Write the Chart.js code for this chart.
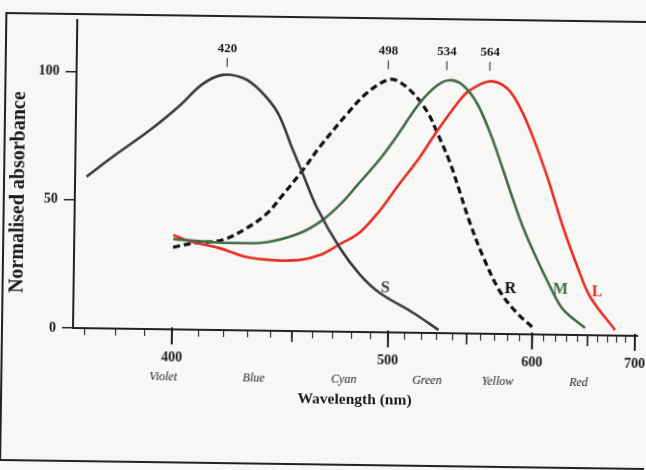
<!DOCTYPE html>
<html>
<head>
<meta charset="utf-8">
<script src="https://cdn.jsdelivr.net/npm/chart.js@4.4.1/dist/chart.umd.min.js"></script>
<style>
  html, body { margin: 0; padding: 0; background: #f7f7f5; }
  /* the scanned figure sits slightly tilted on the page */
  #chart { display: block; transform: rotate(0.8deg); transform-origin: 73px 328px; }
</style>
</head>
<body>
<canvas id="chart" width="646" height="470"></canvas>
<script>
// absorbance curves, wavelength in nm and normalised absorbance
const sNm  = [370, 378.5, 391, 402, 410, 418, 427, 434, 442, 449, 454, 461, 473, 484, 495, 515, 531];
const sVal = [59, 67, 77.5, 87.5, 95.5, 99.4, 98.2, 93.6, 85, 71, 61.5, 48.4, 32.6, 22.2, 15.3, 7.7, 1.2];

const rNm  = [400, 407.5, 419, 429, 438, 444, 454, 462, 476, 486, 497, 503, 513, 522, 528, 537, 544, 551, 561, 574, 587.5, 600];
const rVal = [32, 33.7, 35.1, 39.8, 45.8, 52.1, 62.7, 71.8, 85.1, 93, 98.2, 98.2, 93.3, 86, 78.5, 66.5, 55, 43.5, 30, 16.5, 8.2, 2.9];

const mNm  = [400, 415, 426, 438, 453, 464, 474, 481.5, 494, 503.5, 517, 528, 536, 545, 555, 565, 575, 583, 591.5, 603, 615, 626.5, 647.5];
const mVal = [35.2, 34.2, 34, 34.5, 38.2, 43.4, 50.5, 57, 67.5, 76.5, 89.5, 96.5, 98.6, 96.7, 89.8, 78.1, 64, 52.5, 41.5, 29.5, 18.6, 10, 2.8];

const lNm  = [400, 407.5, 418, 429, 441, 453, 463, 472, 483.5, 494.5, 504, 517.5, 528, 543, 550, 564, 577, 587.5, 598.5, 611, 618, 626, 639, 652, 678];
const lVal = [36.7, 34.1, 31.9, 28.6, 27.5, 27.7, 29.8, 33.7, 38.9, 47.6, 56.6, 68.4, 78.5, 90.8, 94.8, 98.4, 95.8, 88.4, 76.8, 61.5, 52, 41.5, 27, 15, 2.2];

// peak markers and labels
const peakNm = [420, 498, 534, 564];

// curve names with where they are written
const curveNames = ["S", "R", "M", "L"];
const curveNameNm = [498, 582, 624, 659];
const curveNameVal = [17.3, 17.5, 17.4, 16.9];

// colour names under the wavelength axis
const bandNames = ["Violet", "Blue", "Cyan", "Green", "Yellow", "Red"];
const bandNm = [397, 433, 476, 524, 573, 642];

const majorNm = [400, 500, 600, 700];
const yTicks = [0, 50, 100];

const cS = "#3a3a3a", cR = "#111111", cM = "#436b49", cL = "#e52d24";
const serif = "'Liberation Serif', 'DejaVu Serif', serif";

// the wavelength axis is linear in wavenumber
const inv = nm => 1e5 / nm;
const pts = (xs, ys) => xs.map((nm, i) => ({x: inv(nm), y: ys[i]}));

const minorNm = [];
for (let nm = 370; nm <= 700; nm += 10) minorNm.push(nm);

const decor = {
  id: "decor",
  afterDraw(chart) {
    const ctx = chart.ctx;
    const xs = chart.scales.x, ys = chart.scales.y;
    const base = ys.getPixelForValue(0);
    ctx.save();

    // frame of the figure
    ctx.strokeStyle = "#222";
    ctx.lineWidth = 2;
    ctx.beginPath();
    ctx.moveTo(700, 14); ctx.lineTo(2, 14); ctx.lineTo(2, 461); ctx.lineTo(700, 461);
    ctx.stroke();

    // longer ticks every 50 nm
    ctx.strokeStyle = "#222";
    minorNm.forEach(nm => {
      if (nm % 50) return;
      const px = xs.getPixelForValue(inv(nm));
      ctx.lineWidth = nm % 100 ? 1.6 : 2;
      ctx.beginPath();
      ctx.moveTo(px, base - (nm % 100 ? 0 : 2));
      ctx.lineTo(px, base + (nm % 100 ? 11 : 15));
      ctx.stroke();
    });

    // y title
    ctx.fillStyle = "#1a1a1a";
    ctx.font = "bold 20px " + serif;
    ctx.textAlign = "center";
    ctx.textBaseline = "middle";
    ctx.translate(17, 193);
    ctx.rotate(-Math.PI / 2);
    ctx.fillText("Normalised absorbance", 0, 0);
    ctx.setTransform(1, 0, 0, 1, 0, 0);

    // peak wavelengths
    ctx.font = "bold 13px " + serif;
    ctx.lineWidth = 1;
    peakNm.forEach(nm => {
      const px = xs.getPixelForValue(inv(nm));
      ctx.fillText(String(nm), px, ys.getPixelForValue(109.5));
      ctx.beginPath();
      ctx.moveTo(px, ys.getPixelForValue(106));
      ctx.lineTo(px, ys.getPixelForValue(102.5));
      ctx.stroke();
    });

    // curve names
    ctx.font = "bold 16px " + serif;
    const nameCol = [cS, cR, cM, cL];
    curveNames.forEach((t, i) => {
      ctx.fillStyle = nameCol[i];
      ctx.fillText(t, xs.getPixelForValue(inv(curveNameNm[i])), ys.getPixelForValue(curveNameVal[i]));
    });

    // colour bands
    ctx.fillStyle = "#222";
    ctx.font = "italic 12px " + serif;
    bandNames.forEach((t, i) => {
      ctx.fillText(t, xs.getPixelForValue(inv(bandNm[i])), 376);
    });

    ctx.restore();
  }
};

const line = (data, color, extra) => Object.assign({
  data, borderColor: color, borderWidth: 2.6, pointRadius: 0,
  fill: false, tension: 0.35
}, extra || {});

new Chart(document.getElementById("chart"), {
  type: "line",
  data: {
    datasets: [
      line(pts(sNm, sVal), cS),
      line(pts(mNm, mVal), cM),
      line(pts(lNm, lVal), cL),
      line(pts(rNm, rVal), cR, {borderDash: [7, 4], borderWidth: 3.2})
    ]
  },
  options: {
    responsive: false,
    animation: false,
    layout: {padding: {left: 0, right: 8, top: 20, bottom: 0}},
    plugins: {legend: {display: false}, tooltip: {enabled: false}},
    scales: {
      x: {
        type: "linear",
        reverse: true,
        min: 142.17,
        max: 272.91,
        afterBuildTicks: s => { s.ticks = minorNm.map(nm => ({value: inv(nm)})); },
        afterFit: s => { s.height = 142; s.paddingLeft = 0; s.paddingRight = 0; },
        border: {color: "#222", width: 2},
        grid: {drawOnChartArea: false, drawTicks: true, tickLength: 7, color: "#333", lineWidth: 1.2},
        ticks: {
          autoSkip: false, maxRotation: 0, padding: 13,
          color: "#1a1a1a", font: {family: serif, size: 14, weight: "bold"},
          callback: v => {
            const nm = Math.round(1e5 / v);
            return majorNm.includes(nm) ? String(nm) : "";
          }
        },
        title: {
          display: true, text: "Wavelength (nm)", color: "#1a1a1a",
          font: {family: serif, size: 15.5, weight: "bold"},
          padding: {top: 0, bottom: 65}
        }
      },
      y: {
        min: 0,
        max: 120,
        afterBuildTicks: s => { s.ticks = yTicks.map(v => ({value: v})); },
        afterFit: s => { s.width = 73; s.paddingTop = 0; s.paddingBottom = 0; },
        border: {color: "#222", width: 2},
        grid: {drawOnChartArea: false, drawTicks: true, tickLength: 11, color: "#222", lineWidth: 1.5},
        ticks: {
          padding: 6, color: "#1a1a1a",
          font: {family: serif, size: 14, weight: "bold"}
        }
      }
    }
  },
  plugins: [decor]
});
</script>
</body>
</html>
